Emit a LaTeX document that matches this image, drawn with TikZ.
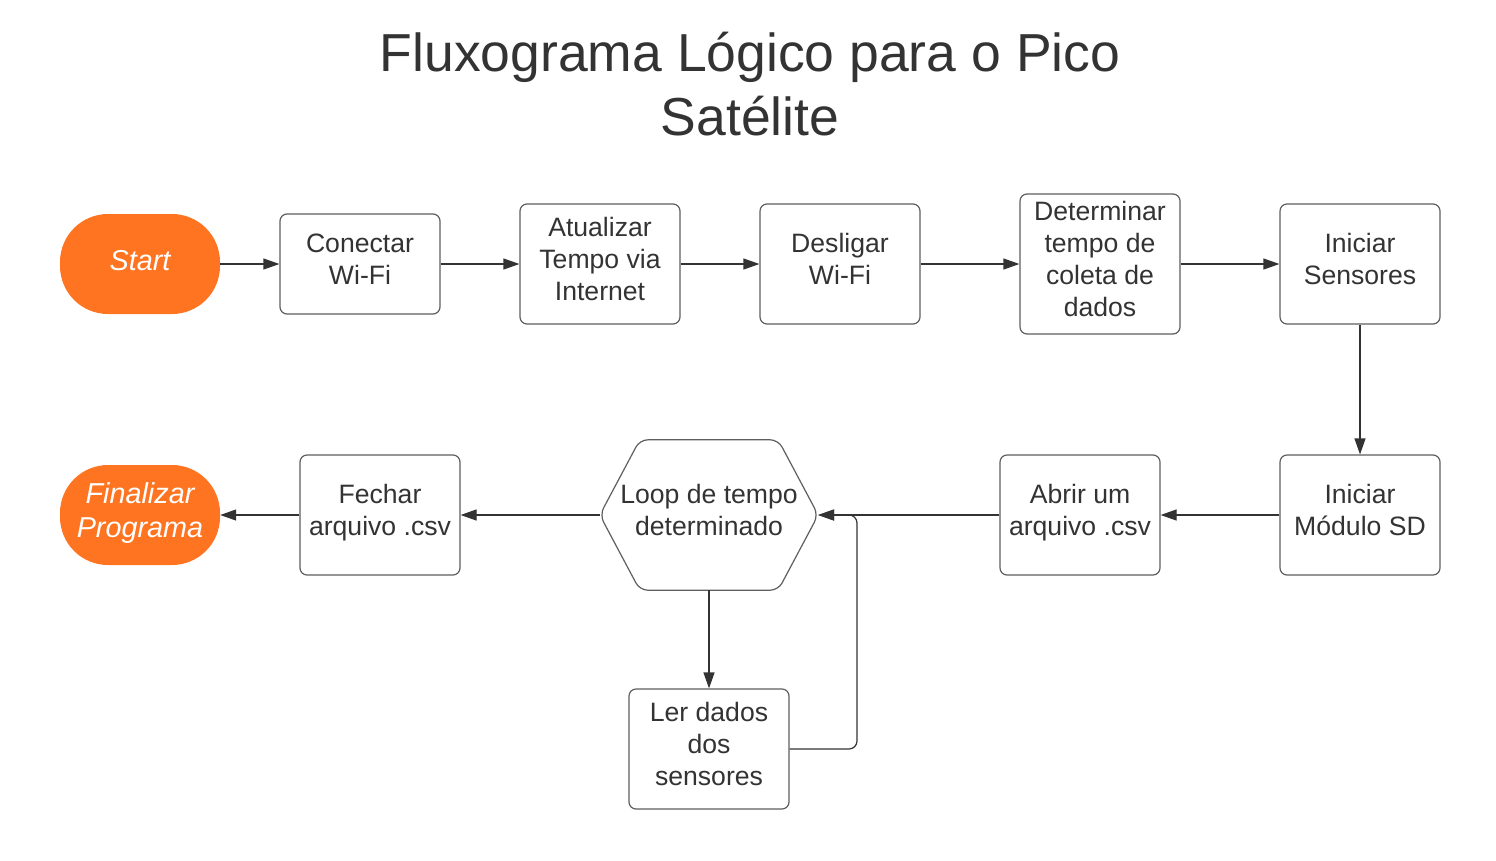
\documentclass[tikz,border=0pt]{standalone}
\usepackage{fontspec}
\setmainfont{Liberation Sans}
\usepackage{xcolor}
\usepackage{tikz}
\usetikzlibrary{arrows.meta}

\definecolor{txtgray}{HTML}{333333}
\definecolor{boxgray}{HTML}{5E5E5E}
\definecolor{startorange}{HTML}{FE7420}

\begin{document}
\begin{tikzpicture}[x=1pt,y=-1pt,
  box/.style={draw=boxgray,line width=1.2pt,rounded corners=7pt,fill=white,minimum width=160pt,minimum height=#1,inner sep=0pt,align=center,text=txtgray,font=\fontsize{26.6}{32}\selectfont,execute at end node=\strut},
  box/.default=120pt,
  term/.style={fill=startorange,rounded corners=48pt,minimum width=160pt,minimum height=100pt,inner sep=0pt,align=center,text=white,font=\fontsize{28.8}{34}\selectfont\itshape,execute at end node=\strut},
  flow/.style={draw=txtgray,line width=1.2pt,-{Triangle[length=16pt,width=11pt]}}]
\useasboundingbox (0,0) rectangle (1496,860);

\node [text=txtgray,align=center,font=\fontsize{53.5}{64}\selectfont] (title) at (750,84) {Fluxograma Lógico para o Pico\\Satélite};

% first row
\node [term] (start) at (140,264) {Start};
\node [box=100pt] (wifi) at (360,264) {Conectar\\Wi-Fi};
\node [box] (tempo) at (600,264) {Atualizar\\Tempo via\\Internet};
\node [box] (desligar) at (840,264) {Desligar\\Wi-Fi};
\node [box=140pt] (coleta) at (1100,264) {Determinar\\tempo de\\coleta de\\dados};
\node [box] (sensores) at (1360,264) {Iniciar\\Sensores};

% second row
\node [box] (sd) at (1360,515) {Iniciar\\Módulo SD};
\node [box] (csv) at (1080,515) {Abrir um\\arquivo .csv};
\node [minimum width=218pt,minimum height=150pt,inner sep=0pt,align=center,text=txtgray,font=\fontsize{26.6}{32}\selectfont,execute at end node=\strut] (loop) at (709,515) {Loop de tempo\\determinado};
\draw [boxgray,line width=1.2pt,rounded corners=8pt] (loop.west) -- ([xshift=40pt]loop.north west) -- ([xshift=-40pt]loop.north east) -- (loop.east) -- ([xshift=-40pt]loop.south east) -- ([xshift=40pt]loop.south west) -- cycle;
\node [box] (fechar) at (380,515) {Fechar\\arquivo .csv};
\node [term] (fim) at (140,515) {Finalizar\\Programa};

% loop body
\node [box] (ler) at (709,749) {Ler dados\\dos\\sensores};
\coordinate (volta) at (857,515);

% arrows
\draw [flow] (start) -- (wifi);
\draw [flow] (wifi) -- (tempo);
\draw [flow] (tempo) -- (desligar);
\draw [flow] (desligar) -- (coleta);
\draw [flow] (coleta) -- (sensores);
\draw [flow] (sensores) -- (sd);
\draw [flow] (sd) -- (csv);
\draw [flow] (csv) -- (loop.east);
\draw [flow] (loop) -- (ler);
\draw [flow,rounded corners=8pt] (ler.east) -| (volta) -- (loop.east);
\draw [flow] (loop.west) -- (fechar);
\draw [flow] (fechar) -- (fim);
\end{tikzpicture}
\end{document}
